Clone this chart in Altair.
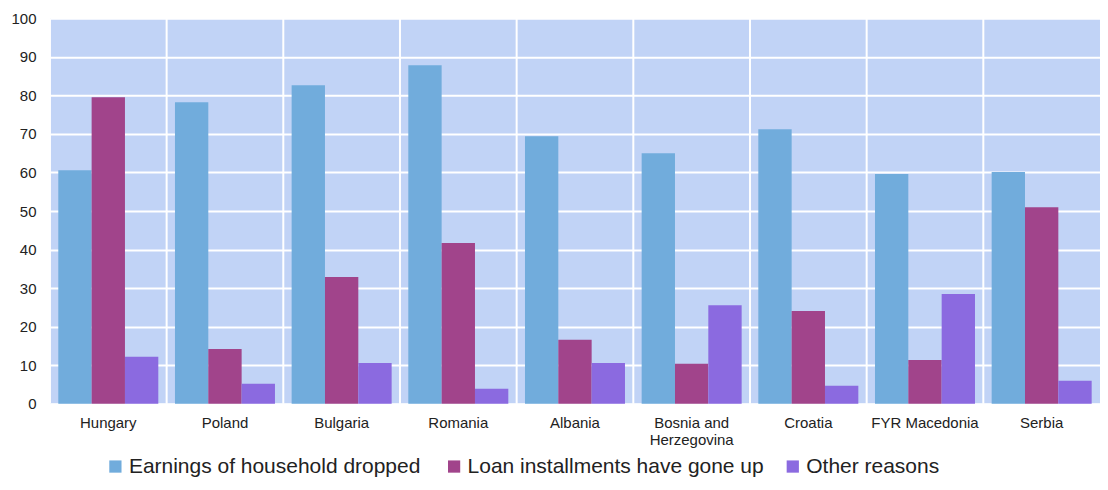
import altair as alt
import pandas as pd

countries = ["Hungary", "Poland", "Bulgaria", "Romania", "Albania",
             "Bosnia and Herzegovina", "Croatia", "FYR Macedonia", "Serbia"]
earnings = [60.6, 78.2, 82.6, 87.8, 69.4, 65.0, 71.2, 59.6, 60.1]
loans = [79.5, 14.2, 32.9, 41.7, 16.6, 10.4, 24.1, 11.4, 51.0]
other = [12.2, 5.2, 10.6, 3.9, 10.6, 25.6, 4.7, 28.5, 6.0]
series = ["Earnings of household dropped", "Loan installments have gone up", "Other reasons"]
colors = ["#71acdc", "#a1448b", "#8b6ae0"]
y_ticks = [0, 10, 20, 30, 40, 50, 60, 70, 80, 90, 100]

rows = []
for i, c in enumerate(countries):
    for s, vals in zip(series, [earnings, loans, other]):
        rows.append({"country": c, "series": s, "value": vals[i]})
df = pd.DataFrame(rows)
sep = pd.DataFrame({"country": countries})

W, H = 1051, 386
FONT = "Liberation Sans"

xscale = alt.Scale(domain=countries, paddingInner=0, paddingOuter=0)

bars = alt.Chart(df).mark_bar().encode(
    x=alt.X("country:N", sort=countries, scale=xscale,
            axis=alt.Axis(title=None, labelAngle=0, labelAlign="center", labelBaseline="top",
                          bandPosition=0.5, ticks=False, domain=False, grid=False,
                          labelFontSize=15, labelPadding=12, labelColor="#222",
                          labelFont=FONT, labelLimit=200, labelLineHeight=17,
                          labelExpr="datum.value == 'Bosnia and Herzegovina' ? ['Bosnia and', 'Herzegovina'] : datum.value")),
    xOffset=alt.XOffset("series:N", sort=series,
                        scale=alt.Scale(paddingInner=0, paddingOuter=0.25)),
    y=alt.Y("value:Q", scale=alt.Scale(domain=[0, 100], nice=False),
            axis=alt.Axis(title=None, values=y_ticks, ticks=False, domain=False,
                          grid=True, gridColor="white", gridWidth=2,
                          labelFontSize=15, labelPadding=14, labelColor="#222",
                          labelFont=FONT)),
    color=alt.Color("series:N", sort=series,
                    scale=alt.Scale(domain=series, range=colors),
                    legend=alt.Legend(title=None, orient="none", legendX=55, legendY=438,
                                      direction="horizontal", symbolType="square",
                                      symbolSize=150, labelFontSize=21, labelFont=FONT,
                                      labelColor="#222", columnPadding=18, labelLimit=500,
                                      gridAlign="all", labelOffset=3, symbolStrokeWidth=0)),
)

rules = alt.Chart(sep).mark_rule(color="white", strokeWidth=2).encode(
    x=alt.X("country:N", sort=countries, scale=xscale, bandPosition=0),
    y=alt.value(0), y2=alt.value(H),
)

chart = alt.layer(rules, bars).properties(
    width=W, height=H, padding={"top": 3, "left": 2, "right": 0, "bottom": 0},
).configure_view(fill="#c1d3f6", stroke=None)

chart.save("out.html", embed_options={"renderer": "svg", "actions": False})
